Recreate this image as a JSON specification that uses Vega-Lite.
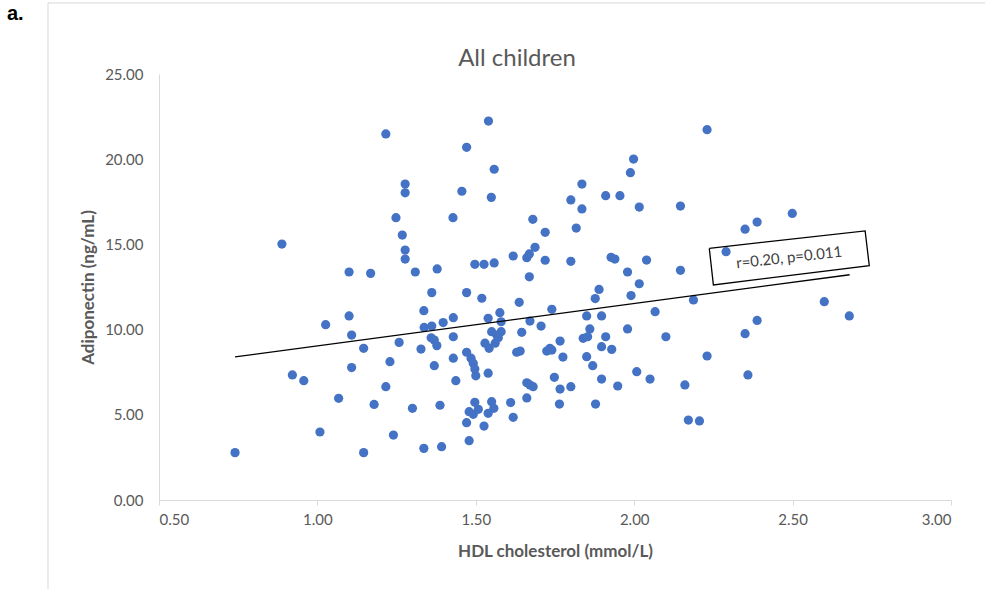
{
  "$schema": "https://vega.github.io/schema/vega-lite/v6.json",
  "width": 792,
  "height": 426,
  "autosize": {"type": "none"},
  "padding": {"left": 159, "top": 74, "right": 34, "bottom": 89},
  "background": "white",
  "config": {"view": {"stroke": null}, "font": "Lato"},
  "title": {"text": "All children", "fontSize": 24, "font": "Lato", "fontWeight": "normal", "color": "#595959", "anchor": "middle", "frame": "group", "dx": -38, "offset": -69},
  "datasets": {
    "points": [
      {"hdl":1.216,"adiponectin":21.48},{"hdl":1.277,"adiponectin":18.54},{"hdl":1.277,"adiponectin":18.03},{"hdl":1.248,"adiponectin":16.57},{"hdl":1.268,"adiponectin":15.55},{"hdl":1.277,"adiponectin":14.67},{"hdl":1.277,"adiponectin":14.14},{"hdl":0.888,"adiponectin":15.02},{"hdl":1.100,"adiponectin":13.38},{"hdl":1.168,"adiponectin":13.30},{"hdl":1.309,"adiponectin":13.38},
      {"hdl":1.540,"adiponectin":22.24},{"hdl":1.471,"adiponectin":20.70},{"hdl":1.558,"adiponectin":19.41},{"hdl":1.456,"adiponectin":18.12},{"hdl":1.549,"adiponectin":17.76},{"hdl":1.428,"adiponectin":16.57},{"hdl":1.680,"adiponectin":16.47},{"hdl":1.719,"adiponectin":15.71},{"hdl":1.687,"adiponectin":14.83},{"hdl":1.618,"adiponectin":14.32},{"hdl":1.661,"adiponectin":14.22},{"hdl":1.669,"adiponectin":14.44},{"hdl":1.719,"adiponectin":14.07},{"hdl":1.669,"adiponectin":13.10},{"hdl":1.378,"adiponectin":13.56},{"hdl":1.497,"adiponectin":13.83},{"hdl":1.526,"adiponectin":13.83},{"hdl":1.558,"adiponectin":13.91},{"hdl":1.800,"adiponectin":14.01},{"hdl":1.835,"adiponectin":18.54},{"hdl":1.800,"adiponectin":17.61},{"hdl":1.835,"adiponectin":17.08},{"hdl":1.817,"adiponectin":15.96},{"hdl":1.910,"adiponectin":17.86},{"hdl":1.955,"adiponectin":17.86},{"hdl":1.998,"adiponectin":20.01},{"hdl":1.988,"adiponectin":19.21},{"hdl":2.016,"adiponectin":17.19},{"hdl":2.146,"adiponectin":17.25},{"hdl":1.927,"adiponectin":14.24},{"hdl":1.939,"adiponectin":14.14},{"hdl":2.039,"adiponectin":14.08},{"hdl":1.979,"adiponectin":13.38},{"hdl":2.016,"adiponectin":12.69},{"hdl":2.146,"adiponectin":13.48},
      {"hdl":2.230,"adiponectin":21.73},{"hdl":2.499,"adiponectin":16.82},{"hdl":2.388,"adiponectin":16.31},{"hdl":2.350,"adiponectin":15.89},{"hdl":2.290,"adiponectin":14.57},
      {"hdl":0.740,"adiponectin":2.78},{"hdl":0.921,"adiponectin":7.34},{"hdl":0.957,"adiponectin":7.00},{"hdl":1.026,"adiponectin":10.29},{"hdl":1.100,"adiponectin":10.80},{"hdl":1.108,"adiponectin":9.68},{"hdl":1.108,"adiponectin":7.77},{"hdl":1.008,"adiponectin":3.99},{"hdl":1.067,"adiponectin":5.97},{"hdl":1.146,"adiponectin":8.90},{"hdl":1.146,"adiponectin":2.78},{"hdl":1.179,"adiponectin":5.61},{"hdl":1.216,"adiponectin":6.65},{"hdl":1.229,"adiponectin":8.12},{"hdl":1.258,"adiponectin":9.25},{"hdl":1.240,"adiponectin":3.81},{"hdl":1.300,"adiponectin":5.38},{"hdl":1.327,"adiponectin":8.86},{"hdl":1.336,"adiponectin":11.11},{"hdl":1.337,"adiponectin":10.13},{"hdl":1.336,"adiponectin":3.03},
      {"hdl":1.361,"adiponectin":12.17},{"hdl":1.471,"adiponectin":12.17},{"hdl":1.519,"adiponectin":11.84},{"hdl":1.637,"adiponectin":11.60},{"hdl":1.429,"adiponectin":10.70},{"hdl":1.397,"adiponectin":10.41},{"hdl":1.361,"adiponectin":10.21},{"hdl":1.359,"adiponectin":9.52},{"hdl":1.369,"adiponectin":9.39},{"hdl":1.377,"adiponectin":9.06},{"hdl":1.429,"adiponectin":9.58},{"hdl":1.369,"adiponectin":7.88},{"hdl":1.429,"adiponectin":8.32},{"hdl":1.437,"adiponectin":7.00},{"hdl":1.387,"adiponectin":5.56},{"hdl":1.471,"adiponectin":8.67},{"hdl":1.485,"adiponectin":8.32},{"hdl":1.492,"adiponectin":8.02},{"hdl":1.497,"adiponectin":7.69},{"hdl":1.500,"adiponectin":7.29},{"hdl":1.539,"adiponectin":7.44},{"hdl":1.539,"adiponectin":10.66},{"hdl":1.576,"adiponectin":10.99},{"hdl":1.580,"adiponectin":10.46},{"hdl":1.550,"adiponectin":9.88},{"hdl":1.566,"adiponectin":9.68},{"hdl":1.580,"adiponectin":9.88},{"hdl":1.529,"adiponectin":9.20},{"hdl":1.542,"adiponectin":8.90},{"hdl":1.561,"adiponectin":9.20},{"hdl":1.571,"adiponectin":9.52},{"hdl":1.645,"adiponectin":9.84},{"hdl":1.671,"adiponectin":10.50},{"hdl":1.706,"adiponectin":10.21},{"hdl":1.740,"adiponectin":11.19},{"hdl":1.629,"adiponectin":8.67},{"hdl":1.640,"adiponectin":8.74},{"hdl":1.724,"adiponectin":8.74},{"hdl":1.734,"adiponectin":8.90},{"hdl":1.740,"adiponectin":8.80},{"hdl":1.766,"adiponectin":9.33},{"hdl":1.775,"adiponectin":8.39},{"hdl":1.748,"adiponectin":7.20},{"hdl":1.661,"adiponectin":6.88},{"hdl":1.671,"adiponectin":6.75},{"hdl":1.681,"adiponectin":6.65},{"hdl":1.661,"adiponectin":5.99},{"hdl":1.610,"adiponectin":5.72},{"hdl":1.618,"adiponectin":4.85},{"hdl":1.766,"adiponectin":6.51},{"hdl":1.764,"adiponectin":5.63},{"hdl":1.497,"adiponectin":5.73},{"hdl":1.479,"adiponectin":5.18},{"hdl":1.492,"adiponectin":5.03},{"hdl":1.508,"adiponectin":5.32},{"hdl":1.550,"adiponectin":5.77},{"hdl":1.557,"adiponectin":5.38},{"hdl":1.539,"adiponectin":5.09},{"hdl":1.471,"adiponectin":4.54},{"hdl":1.526,"adiponectin":4.34},{"hdl":1.479,"adiponectin":3.48},{"hdl":1.392,"adiponectin":3.13},{"hdl":1.800,"adiponectin":6.65},
      {"hdl":1.889,"adiponectin":12.36},{"hdl":1.877,"adiponectin":11.82},{"hdl":1.990,"adiponectin":12.00},{"hdl":2.187,"adiponectin":11.74},{"hdl":2.066,"adiponectin":11.05},{"hdl":1.850,"adiponectin":10.80},{"hdl":1.897,"adiponectin":10.80},{"hdl":1.860,"adiponectin":10.04},{"hdl":1.839,"adiponectin":9.49},{"hdl":1.853,"adiponectin":9.58},{"hdl":1.979,"adiponectin":10.04},{"hdl":1.910,"adiponectin":9.58},{"hdl":1.897,"adiponectin":9.00},{"hdl":1.929,"adiponectin":8.84},{"hdl":2.100,"adiponectin":9.58},{"hdl":1.850,"adiponectin":8.41},{"hdl":1.869,"adiponectin":7.88},{"hdl":2.008,"adiponectin":7.53},{"hdl":2.050,"adiponectin":7.10},{"hdl":1.897,"adiponectin":7.10},{"hdl":1.948,"adiponectin":6.69},{"hdl":2.160,"adiponectin":6.75},{"hdl":1.878,"adiponectin":5.63},{"hdl":2.171,"adiponectin":4.69},{"hdl":2.206,"adiponectin":4.64},{"hdl":2.230,"adiponectin":8.45},{"hdl":2.600,"adiponectin":11.64},{"hdl":2.679,"adiponectin":10.80},{"hdl":2.388,"adiponectin":10.54},{"hdl":2.350,"adiponectin":9.76},{"hdl":2.359,"adiponectin":7.34}
    ],
    "trend": [{"hdl":0.74,"adiponectin":8.40},{"hdl":2.68,"adiponectin":13.22}],
    "box": [
      {"i":0,"hdl":2.237,"adiponectin":14.77},{"i":1,"hdl":2.729,"adiponectin":15.79},{"i":2,"hdl":2.742,"adiponectin":13.75},{"i":3,"hdl":2.250,"adiponectin":12.62},{"i":4,"hdl":2.237,"adiponectin":14.77}
    ],
    "stat": [{"hdl":2.489,"adiponectin":14.23,"label":"r=0.20, p=0.011"}],
    "panel": [{"hdl":0.02,"adiponectin":28.17,"label":"a."}],
    "frame": [
      {"hdl":0.1496,"adiponectin":29.17,"hdl2":3.11,"adiponectin2":29.17},
      {"hdl":0.1496,"adiponectin":29.17,"hdl2":0.1496,"adiponectin2":-6}
    ]
  },
  "encoding": {
    "x": {"field": "hdl", "type": "quantitative", "title": "HDL cholesterol (mmol/L)",
      "scale": {"domain": [0.5, 3], "nice": false, "zero": false},
      "axis": {"values": [0.5,1,1.5,2,2.5,3], "format": ".2f", "grid": false, "domainColor": "#d9d9d9", "domainWidth": 1, "ticks": true, "tickColor": "#d9d9d9", "tickSize": 5, "labelFont": "Lato", "labelFontSize": 15, "labelColor": "#595959", "labelPadding": 7, "titleFont": "Lato", "titleFontSize": 17, "titleFontWeight": "bold", "titleColor": "#595959", "titlePadding": 16}},
    "y": {"field": "adiponectin", "type": "quantitative", "title": "Adiponectin (ng/mL)",
      "scale": {"domain": [0, 25], "nice": false, "zero": false},
      "axis": {"values": [0,5,10,15,20,25], "format": ".2f", "grid": false, "domainColor": "#d9d9d9", "domainWidth": 1, "ticks": false, "labelFont": "Lato", "labelFontSize": 15, "labelColor": "#595959", "labelPadding": 16, "titleFont": "Lato", "titleFontSize": 17, "titleFontWeight": "bold", "titleColor": "#595959", "titlePadding": 7}}
  },
  "layer": [
    {"data": {"name": "frame"}, "mark": {"type": "rule", "color": "#d9d9d9", "strokeWidth": 1, "clip": false},
      "encoding": {"x2": {"field": "hdl2"}, "y2": {"field": "adiponectin2"}}},
    {"data": {"name": "points"}, "mark": {"type": "circle", "size": 85, "opacity": 1, "color": "#4472C4"}},
    {"data": {"name": "trend"}, "mark": {"type": "line", "color": "#000000", "strokeWidth": 1.3}},
    {"data": {"name": "box"}, "mark": {"type": "line", "color": "#000000", "strokeWidth": 1.3}, "encoding": {"order": {"field": "i", "type": "quantitative"}}},
    {"data": {"name": "stat"}, "mark": {"type": "text", "angle": -6.3, "align": "center", "baseline": "middle", "font": "Lato", "fontSize": 15, "color": "#404040"}, "encoding": {"text": {"field": "label"}}},
    {"data": {"name": "panel"}, "mark": {"type": "text", "align": "left", "baseline": "alphabetic", "font": "Liberation Sans", "fontWeight": "bold", "fontSize": 20, "color": "#000000", "clip": false}, "encoding": {"text": {"field": "label"}}}
  ]
}
